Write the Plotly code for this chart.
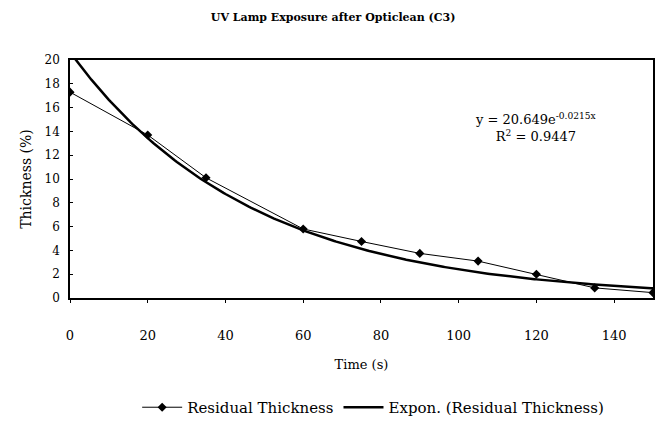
import numpy as np
import plotly.graph_objects as go

time_s = [0, 20, 35, 60, 75, 90, 105, 120, 135, 150]
thickness = [17.3, 13.7, 10.1, 5.8, 4.75, 3.75, 3.1, 2.0, 0.85, 0.45]

fit_a = 20.649
fit_b = -0.0215
fit_r2 = 0.9447

x_ticks = [0, 20, 40, 60, 80, 100, 120, 140]
y_ticks = [0, 2, 4, 6, 8, 10, 12, 14, 16, 18, 20]

xf = np.linspace(0, 150, 301)
yf = fit_a * np.exp(fit_b * xf)

font = "DejaVu Serif, serif"

fig = go.Figure()
fig.add_trace(go.Scatter(
    x=time_s, y=thickness, mode="lines+markers", name="Residual Thickness",
    line=dict(color="black", width=1), marker=dict(symbol="diamond", size=7, color="black"),
))
fig.add_trace(go.Scatter(
    x=xf, y=yf, mode="lines", name="Expon. (Residual Thickness)",
    line=dict(color="black", width=2.5),
))

fig.add_annotation(
    x=120, y=14.3, xref="x", yref="y", showarrow=False, align="center",
    text=f"y = {fit_a}e<sup>{fit_b}x</sup><br>R<sup>2</sup> = {fit_r2}",
    font=dict(family=font, size=13, color="black"),
)

fig.update_layout(
    width=657, height=428,
    margin=dict(l=70, r=4, t=60, b=128),
    paper_bgcolor="white", plot_bgcolor="white",
    font=dict(family=font, size=12, color="black"),
    title=dict(text="<b>UV Lamp Exposure after Opticlean (C3)</b>", x=0.507, xanchor="center",
               y=0.96, yanchor="middle", font=dict(family=font, size=11, color="black")),
    showlegend=True,
    legend=dict(orientation="h", x=0.52, xanchor="center", y=-0.46, yanchor="middle",
                font=dict(family=font, size=15, color="black"), bgcolor="rgba(0,0,0,0)",
                borderwidth=0, itemwidth=40),
    xaxis=dict(range=[0, 150], tickvals=x_ticks, showgrid=False, zeroline=False,
               showline=True, linecolor="black", linewidth=1.5, mirror=True,
               ticks="outside", ticklen=3, tickcolor="black", automargin=False,
               ticklabelstandoff=22,
               title=dict(text="Time (s)", standoff=18, font=dict(size=13)),
               tickfont=dict(family=font, size=13)),
    yaxis=dict(range=[0, 20], tickvals=y_ticks, showgrid=False, zeroline=False,
               showline=True, linecolor="black", linewidth=1.5, mirror=True,
               ticks="inside", ticklen=3, tickcolor="black", automargin=False,
               ticklabelstandoff=6,
               title=dict(text="Thickness (%)", standoff=10, font=dict(size=14)),
               tickfont=dict(family=font, size=12)),
)

fig.write_html("out.html", post_script="document.body.style.margin='0';",
               config={"displayModeBar": False})
